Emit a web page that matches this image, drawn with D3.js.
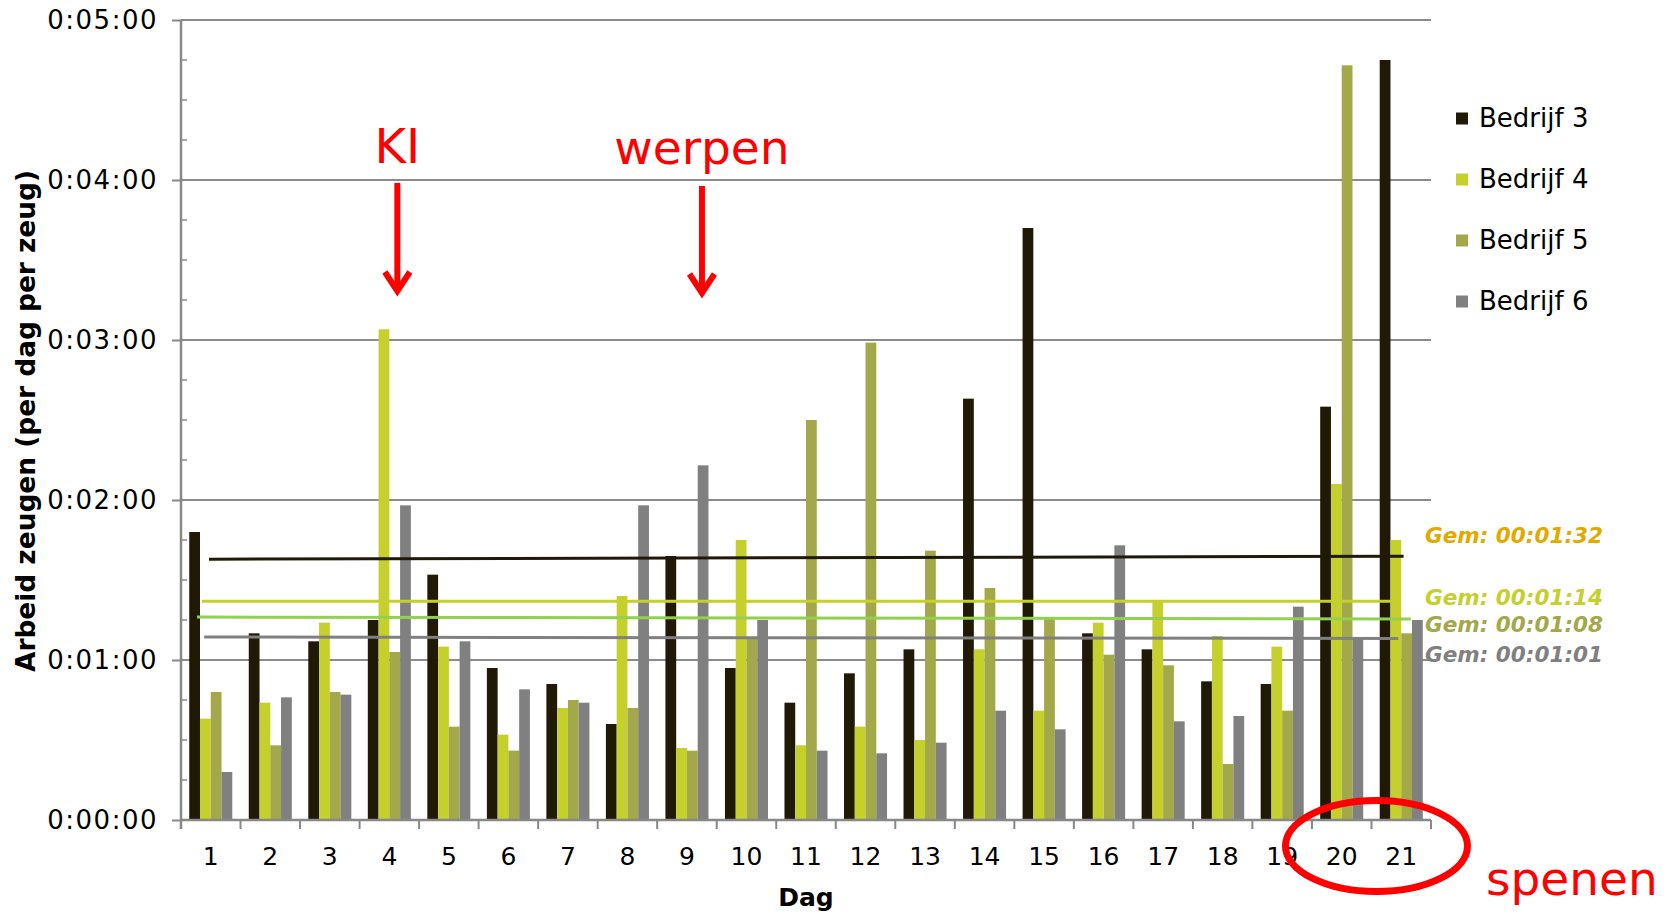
<!DOCTYPE html>
<html>
<head>
<meta charset="utf-8">
<script src="https://cdn.jsdelivr.net/npm/d3@7"></script>
<style>
  html, body { margin: 0; padding: 0; background: #ffffff; }
  svg { display: block; }
</style>
</head>
<body>
<svg id="chart" width="1669" height="914"></svg>
<script>
// ---------------- DATA ----------------
const days = ["1","2","3","4","5","6","7","8","9","10","11","12","13","14","15","16","17","18","19","20","21"];
const seriesNames = ["Bedrijf 3", "Bedrijf 4", "Bedrijf 5", "Bedrijf 6"];
// seconds of labour per day per sow
const bedrijf3 = [108, 70, 67, 75, 92, 57, 51, 36, 99, 57, 44, 55, 64, 158, 222, 70, 64, 52, 51, 155, 285];
const bedrijf4 = [38, 44, 74, 184, 65, 32, 42, 84, 27, 105, 28, 35, 30, 64, 41, 74, 82, 69, 65, 126, 105];
const bedrijf5 = [48, 28, 48, 63, 35, 26, 45, 42, 26, 68, 150, 179, 101, 87, 76, 62, 58, 21, 41, 283, 70];
const bedrijf6 = [18, 46, 47, 118, 67, 49, 44, 118, 133, 75, 26, 25, 29, 41, 34, 103, 37, 39, 80, 68, 75];
const yTicks = [0, 60, 120, 180, 240, 300];
const yTickLabels = ["0:00:00", "0:01:00", "0:02:00", "0:03:00", "0:04:00", "0:05:00"];
// average lines as drawn (seconds at start / end) and their labels
const avgStart = [97.8, 82.0, 76.1, 68.6];
const avgEnd = [98.9, 82.0, 75.4, 68.1];
const avgFrom = [0.47, 0.35, 0.27, 0.39];   // in day units from axis start
const avgTo = [20.54, 20.34, 20.66, 20.45];
const avgLabels = ["Gem: 00:01:32", "Gem: 00:01:14", "Gem: 00:01:08", "Gem: 00:01:01"];
const annotations = ["KI", "werpen", "spenen"];
const xTitle = "Dag";
const yTitle = "Arbeid zeugen (per dag per zeug)";

// ---------------- STYLE ----------------
const barColors = ["#1f1906", "#c5d02c", "#a3a84a", "#808080"];
const avgLineColors = ["#1f1906", "#c5d02c", "#92d050", "#808080"];
const avgLabelColors = ["#e2a900", "#c5d02c", "#a3a84a", "#808080"];
const gridColor = "#8c8c8c";
const axisColor = "#888888";
const red = "#ff0000";
const font = "'DejaVu Sans', Verdana, sans-serif";

const svg = d3.select("#chart");
svg.append("rect").attr("width", 1669).attr("height", 914).attr("fill", "#fff");

const pLeft = 181, pRight = 1431, pTop = 20, pBottom = 820;

const y = d3.scaleLinear().domain([0, 300]).range([pBottom, pTop]);
const x = d3.scaleBand().domain(days).range([pLeft, pRight]).paddingInner(0.277).paddingOuter(0.1385);
const xs = d3.scaleBand().domain(seriesNames).range([0, x.bandwidth()]).padding(0);
const xLin = d3.scaleLinear().domain([0, days.length]).range([pLeft, pRight]);

// gridlines
svg.append("g").selectAll("line").data(yTicks.filter(d => d > 0)).join("line")
  .attr("x1", pLeft).attr("x2", pRight)
  .attr("y1", d => y(d)).attr("y2", d => y(d))
  .attr("stroke", gridColor).attr("stroke-width", 2);

// bars
const allSeries = [bedrijf3, bedrijf4, bedrijf5, bedrijf6];
const gBars = svg.append("g");
allSeries.forEach((vals, si) => {
  gBars.append("g").selectAll("rect").data(vals).join("rect")
    .attr("x", (d, i) => x(days[i]) + xs(seriesNames[si]))
    .attr("width", xs.bandwidth())
    .attr("y", d => y(d))
    .attr("height", d => y(0) - y(d))
    .attr("fill", barColors[si]);
});

// y axis
const yAxis = d3.axisLeft(y).tickValues(yTicks).tickFormat((d, i) => yTickLabels[i])
  .tickSize(9).tickPadding(14);
const gy = svg.append("g").attr("transform", `translate(${pLeft},0)`).call(yAxis);
gy.select(".domain").remove();
gy.selectAll(".tick line").attr("stroke", axisColor).attr("stroke-width", 2);
gy.selectAll(".tick text").attr("font-family", font).attr("font-size", 26).attr("fill", "#000")
  .attr("letter-spacing", 1.5);
// minor ticks inward
const minor = d3.range(0, 301, 15).filter(d => d % 60 !== 0);
svg.append("g").selectAll("line").data(minor).join("line")
  .attr("x1", pLeft).attr("x2", pLeft + 6)
  .attr("y1", d => y(d)).attr("y2", d => y(d))
  .attr("stroke", axisColor).attr("stroke-width", 1.5);
svg.append("line").attr("x1", pLeft).attr("x2", pLeft).attr("y1", pTop).attr("y2", pBottom + 9)
  .attr("stroke", axisColor).attr("stroke-width", 2.5);

// x axis
svg.append("line").attr("x1", pLeft).attr("x2", pRight).attr("y1", pBottom).attr("y2", pBottom)
  .attr("stroke", axisColor).attr("stroke-width", 2.5);
svg.append("g").selectAll("line").data(d3.range(days.length + 1)).join("line")
  .attr("x1", d => xLin(d)).attr("x2", d => xLin(d))
  .attr("y1", pBottom).attr("y2", pBottom + 9)
  .attr("stroke", axisColor).attr("stroke-width", 2);
svg.append("g").selectAll("text").data(days).join("text")
  .attr("x", d => x(d) + x.bandwidth() / 2)
  .attr("y", 865)
  .attr("text-anchor", "middle")
  .attr("font-family", font).attr("font-size", 25).attr("fill", "#000")
  .text(d => d);

// axis titles
svg.append("text").attr("x", 806).attr("y", 906).attr("text-anchor", "middle")
  .attr("font-family", font).attr("font-weight", "bold").attr("font-size", 25).attr("fill", "#000")
  .text(xTitle);
svg.append("text").attr("transform", "translate(35,421) rotate(-90)")
  .attr("text-anchor", "middle")
  .attr("font-family", "'DejaVu Sans Condensed', 'DejaVu Sans', sans-serif")
  .attr("font-weight", "bold").attr("font-size", 27).attr("fill", "#000")
  .attr("textLength", 502).attr("lengthAdjust", "spacingAndGlyphs")
  .text(yTitle);

// average lines
const gAvg = svg.append("g");
avgStart.forEach((v, i) => {
  gAvg.append("line")
    .attr("x1", xLin(avgFrom[i])).attr("x2", xLin(avgTo[i]))
    .attr("y1", y(v)).attr("y2", y(avgEnd[i]))
    .attr("stroke", avgLineColors[i]).attr("stroke-width", 3);
});
const labelBase = [543, 605, 632, 662];
avgLabels.forEach((t, i) => {
  svg.append("text").attr("x", 1425).attr("y", labelBase[i])
    .attr("font-family", font).attr("font-weight", "bold").attr("font-style", "italic")
    .attr("font-size", 21).attr("fill", avgLabelColors[i])
    .attr("textLength", 178).attr("lengthAdjust", "spacingAndGlyphs")
    .text(t);
});

// legend
const gLeg = svg.append("g");
seriesNames.forEach((s, i) => {
  const cy = 118.5 + i * 61;
  gLeg.append("rect").attr("x", 1456).attr("y", cy - 6).attr("width", 12).attr("height", 12).attr("fill", barColors[i]);
  gLeg.append("text").attr("x", 1479).attr("y", cy + 8.5)
    .attr("font-family", font).attr("font-size", 26).attr("fill", "#000").text(s);
});

// annotations
function arrow(cx, y1, y2) {
  svg.append("line").attr("x1", cx).attr("x2", cx).attr("y1", y1).attr("y2", y2 - 3)
    .attr("stroke", red).attr("stroke-width", 6);
  svg.append("path")
    .attr("d", `M${cx - 12.5},${y2 - 22} L${cx},${y2 - 3} L${cx + 12.5},${y2 - 22}`)
    .attr("fill", "none").attr("stroke", red).attr("stroke-width", 6)
    .attr("stroke-linejoin", "miter");
}
const kiX = x("4") + x.bandwidth() / 2 + 8;
const werpX = x("9") + x.bandwidth() / 2 + 15;
svg.append("text").attr("x", kiX).attr("y", 163.3).attr("text-anchor", "middle")
  .attr("font-family", font).attr("font-size", 48).attr("fill", red).text(annotations[0]);
arrow(kiX, 183, 294);
svg.append("text").attr("x", werpX).attr("y", 164).attr("text-anchor", "middle")
  .attr("font-family", font).attr("font-size", 47).attr("fill", red).text(annotations[1]);
arrow(werpX, 186, 296);
const spX = (x("20") + x("21") + x.bandwidth()) / 2 + 5;
svg.append("ellipse").attr("cx", spX).attr("cy", 846).attr("rx", 91).attr("ry", 45.5)
  .attr("fill", "none").attr("stroke", red).attr("stroke-width", 7);
svg.append("text").attr("x", 1486).attr("y", 895)
  .attr("font-family", font).attr("font-size", 47).attr("fill", red).text(annotations[2]);
</script>
</body>
</html>
